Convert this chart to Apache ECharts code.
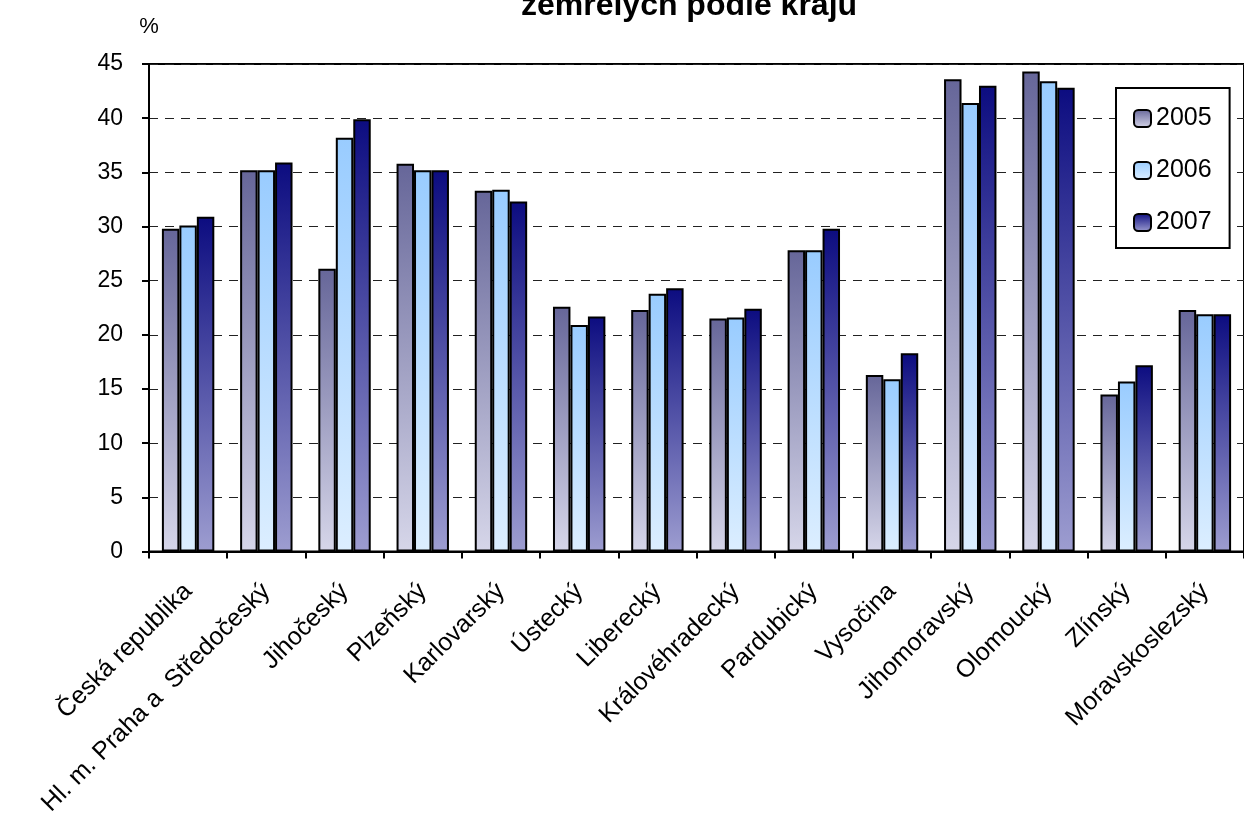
<!DOCTYPE html>
<html>
<head>
<meta charset="utf-8">
<script src="https://cdn.jsdelivr.net/npm/echarts@6/dist/echarts.min.js"></script>
<style>
html,body{margin:0;padding:0;background:#fff;}
#chart{width:1244px;height:828px;}
</style>
</head>
<body>
<div id="chart"></div>
<script>
const categories = ["Česká republika","Hl. m. Praha a  Středočeský","Jihočeský","Plzeňský","Karlovarský","Ústecký","Liberecký","Královéhradecký","Pardubický","Vysočina","Jihomoravský","Olomoucký","Zlínský","Moravskoslezský"];
const seriesNames = ["2005","2006","2007"];
const v2005 = [29.8,35.2,26.1,35.8,33.3,22.6,22.3,21.5,27.8,16.3,43.6,44.3,14.5,22.3];
const v2006 = [30.1,35.2,38.2,35.2,33.4,20.9,23.8,21.6,27.8,15.9,41.4,43.4,15.7,21.9];
const v2007 = [30.9,35.9,39.9,35.2,32.3,21.7,24.3,22.4,29.8,18.3,43.0,42.8,17.2,21.9];
const titleText = "zemřelých podle krajů";
const yUnit = "%";

const FONT = "Arial, 'Liberation Sans', sans-serif";
function grad(top, bottom){
  return new echarts.graphic.LinearGradient(0,0,0,1,[{offset:0,color:top},{offset:1,color:bottom}]);
}
const fills = [grad('#666699','#D6D6E9'), grad('#99CCFF','#DCEEFF'), grad('#0C0C80','#9D9DD0')];
const values = [v2005, v2006, v2007];

const chart = echarts.init(document.getElementById('chart'), null, {renderer:'canvas'});
chart.setOption({
  animation:false,
  backgroundColor:'#fff',
  title:{
    text:titleText, left:684, top:-15, textAlign:'center',
    textStyle:{fontFamily:FONT, fontSize:32, fontWeight:'bold', color:'#000'}
  },
  legend:{
    orient:'vertical', left:1116, top:88,
    data:seriesNames,
    backgroundColor:'#fff', borderColor:'#000', borderWidth:2,
    padding:[18,18,13,17], itemGap:27, itemWidth:17, itemHeight:17,
    textStyle:{fontFamily:FONT, fontSize:25, color:'#000'}
  },
  grid:{left:149, top:64, right:-12, bottom:276.5, show:true, borderColor:'#000', borderWidth:2, containLabel:false},
  xAxis:{
    type:'category', data:categories,
    axisLine:{lineStyle:{color:'#000', width:2}},
    axisTick:{show:true, length:7, lineStyle:{color:'#000', width:2}},
    axisLabel:{rotate:45, margin:36, fontFamily:FONT, fontSize:25, color:'#000', interval:0}
  },
  yAxis:{
    type:'value', min:0, max:45, interval:5,
    name:yUnit, nameLocation:'end', nameGap:26,
    nameTextStyle:{fontFamily:FONT, fontSize:22, color:'#000', align:'center'},
    axisLine:{show:true, lineStyle:{color:'#000', width:2}},
    axisTick:{show:true, length:7, lineStyle:{color:'#000', width:2}},
    axisLabel:{margin:26, fontFamily:FONT, fontSize:23, color:'#000'},
    splitLine:{show:true, lineStyle:{color:'#222', width:1.2, type:[9,7]}}
  },
  series: seriesNames.map((n,i)=>({
    name:n, type:'bar', data:values[i],
    barGap:'0%', barCategoryGap:'33%',
    itemStyle:{color:fills[i], borderColor:'#000', borderWidth:2}
  }))
});
</script>
</body>
</html>
